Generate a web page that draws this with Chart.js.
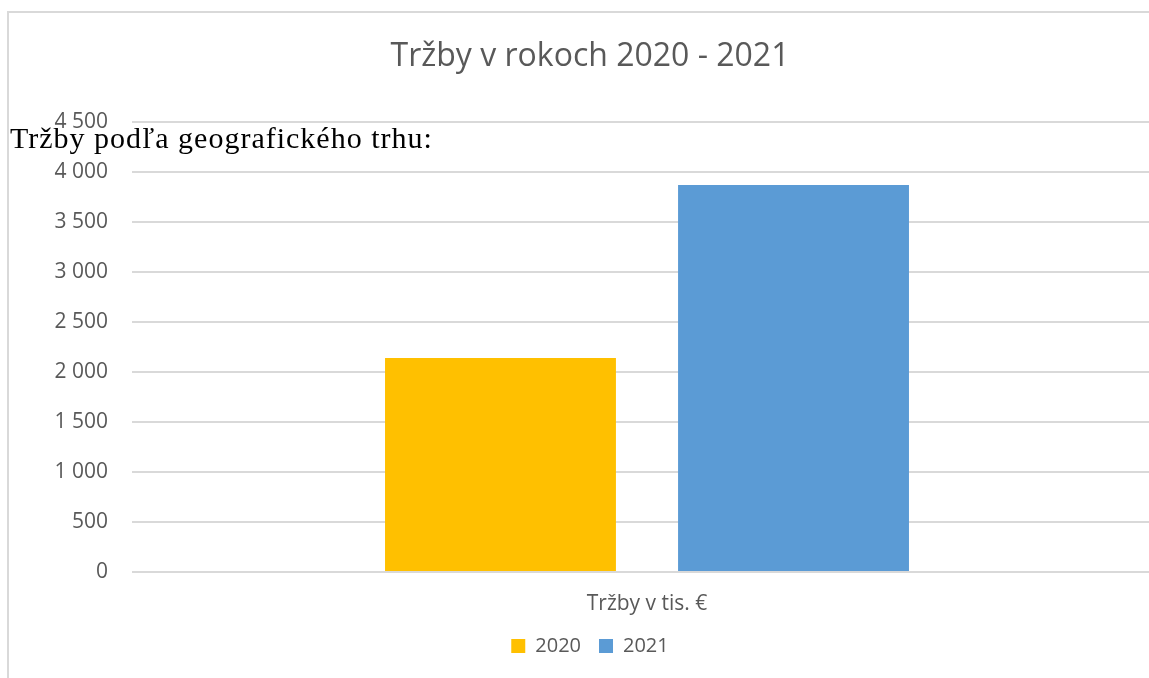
<!DOCTYPE html>
<html lang="sk">
<head>
<meta charset="utf-8">
<title>Tržby v rokoch 2020 - 2021</title>
<script src="https://cdn.jsdelivr.net/npm/chart.js@4.4.0/dist/chart.umd.min.js"></script>
<style>
  body { margin: 0; background: #fff; overflow: hidden; width: 1149px; height: 678px; position: relative; }
  #frame { position: absolute; left: 7px; top: 11px; width: 1300px; height: 800px; border: 2px solid #d9d9d9; }
  #wrap { position: absolute; left: 0; top: 0; width: 1180px; height: 678px; }
  #note { position: absolute; left: 10px; top: 121px; font-family: "Liberation Serif", "Times New Roman", serif; font-size: 30px; letter-spacing: 1px; color: #000; white-space: nowrap; }
</style>
</head>
<body>
<div id="frame"></div>
<div id="wrap"><canvas id="myChart"></canvas></div>
<div id="note">Tržby podľa geografického trhu:</div>

<script>
// data
var categories = ['Tržby v tis. €'];
var years = ['2020', '2021'];
var sales2020 = [2140];
var sales2021 = [3870];
var yTicks = [0, 500, 1000, 1500, 2000, 2500, 3000, 3500, 4000, 4500];

var gray = '#595959';
var font = 'Open Sans';

function spaced(v) {
  return String(v).replace(/\B(?=(\d{3})+(?!\d))/g, ' ');
}

var ctx = document.getElementById('myChart').getContext('2d');

var config = {
  type: 'bar',
  data: {
    labels: categories,
    datasets: [{
      label: years[0],
      data: sales2020,
      backgroundColor: '#FFC000',
      categoryPercentage: 0.569,
      barPercentage: 0.788
    }, {
      label: years[1],
      data: sales2021,
      backgroundColor: '#5B9BD5',
      categoryPercentage: 0.569,
      barPercentage: 0.788
    }]
  },
  options: {
    responsive: true,
    maintainAspectRatio: false,
    animation: false,
    layout: { padding: { left: 18, right: 18, top: 0, bottom: 12 } },
    plugins: {
      title: {
        display: true,
        text: 'Tržby v rokoch 2020 - 2021',
        color: gray,
        font: { family: font, size: 32, weight: 'normal' },
        padding: { top: 38, bottom: 45.6 }
      },
      legend: {
        position: 'bottom',
        labels: {
          color: gray,
          font: { family: font, size: 20 },
          boxWidth: 14,
          boxHeight: 14,
          padding: 18
        }
      },
      tooltip: { enabled: false }
    },
    scales: {
      x: {
        afterFit: function (scale) { scale.height = 46; },
        grid: { display: false, drawTicks: false },
        border: { display: false },
        ticks: { color: gray, font: { family: font, size: 21 }, padding: 19 }
      },
      y: {
        min: 0,
        max: 4500,
        afterFit: function (scale) { scale.width = 114; },
        afterBuildTicks: function (scale) {
          scale.ticks = yTicks.map(function (v) { return { value: v }; });
        },
        grid: { color: '#d9d9d9', lineWidth: 2, drawTicks: false },
        border: { display: false },
        ticks: {
          color: gray,
          font: { family: font, size: 21 },
          padding: 24,
          callback: function (v) { return spaced(v); }
        }
      }
    }
  }
};

window.myBar = new Chart(ctx, config);
</script>
</body>
</html>
